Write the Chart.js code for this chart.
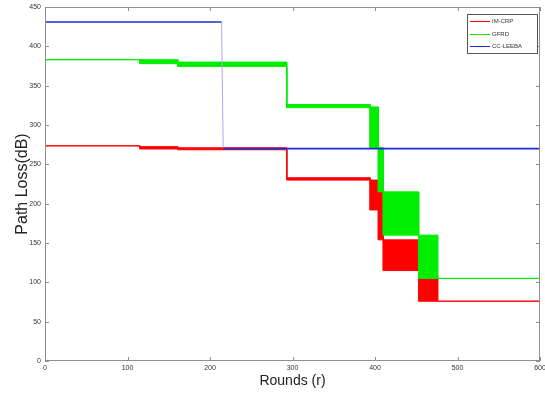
<!DOCTYPE html>
<html>
<head>
<meta charset="utf-8">
<script src="https://cdn.jsdelivr.net/npm/chart.js@4"></script>
<style>
  body { margin: 0; background: #fff; }
</style>
</head>
<body>
<canvas id="c" width="545" height="394"></canvas>
<script>
// Path loss per round.
// Each segment runs from start[i] to start[i+1] (last one to maxRound),
// and the value jumps between low[i] and high[i] inside it.
const maxRound = 600;

const imcrpStart = [0, 115, 161, 293, 394, 404, 410, 453, 476];
const imcrpHigh  = [273.5, 272.5, 271, 233, 230, 215, 154, 107, 76];
const imcrpLow   = [273.5, 269.5, 268.5, 230, 192, 154, 115, 76, 76];

const gfrdStart = [0, 115, 161, 293, 394, 404, 410, 453, 476];
const gfrdHigh  = [383, 383, 380, 326, 323, 271, 215, 160, 105];
const gfrdLow   = [383, 378, 374.5, 322, 271, 215, 160, 105, 105];

const leebaRounds = [0, 214, 216, 600];
const leebaLoss   = [431, 431, 270, 270];

const xTicks = [0, 100, 200, 300, 400, 500, 600];
const yTicks = [0, 50, 100, 150, 200, 250, 300, 350, 400, 450];

const seriesNames = ["IM-CRP", "GFRD", "CC-LEEBA"];
const seriesColors = ["#ff0000", "#00ee00", "#1e2ad2"];

// turn segments into corner points for a step outline
function stepPoints(starts, values) {
  const pts = [];
  starts.forEach((s, i) => {
    const end = i + 1 < starts.length ? starts[i + 1] : maxRound;
    pts.push({ x: s, y: values[i] });
    pts.push({ x: end, y: values[i] });
  });
  return pts;
}

const datasets = [
  // 0,1: IM-CRP band
  { label: seriesNames[0], data: stepPoints(imcrpStart, imcrpHigh), borderColor: seriesColors[0],
    borderWidth: 1, fill: false, order: 3 },
  { label: seriesNames[0] + " low", data: stepPoints(imcrpStart, imcrpLow), borderColor: seriesColors[0],
    backgroundColor: seriesColors[0], borderWidth: 1, fill: 0, order: 3 },
  // 2,3: GFRD band
  { label: seriesNames[1], data: stepPoints(gfrdStart, gfrdHigh), borderColor: seriesColors[1],
    borderWidth: 1, fill: false, order: 2 },
  { label: seriesNames[1] + " low", data: stepPoints(gfrdStart, gfrdLow), borderColor: seriesColors[1],
    backgroundColor: seriesColors[1], borderWidth: 1, fill: 2, order: 2 },
  // 4: CC-LEEBA
  { label: seriesNames[2], data: leebaRounds.map((r, i) => ({ x: r, y: leebaLoss[i] })),
    borderColor: seriesColors[2], borderWidth: 1.6, fill: false, order: 1,
    segment: {
      borderColor: ctx => Math.abs(ctx.p0.parsed.y - ctx.p1.parsed.y) > 50 ? "#aaaaf0" : undefined,
      borderWidth: ctx => Math.abs(ctx.p0.parsed.y - ctx.p1.parsed.y) > 50 ? 1 : undefined
    } }
];

// MATLAB style box with inward ticks, plus the little legend box
const framePlugin = {
  id: "frame",
  afterDraw(chart) {
    const { ctx, chartArea: a, scales: { x, y } } = chart;
    ctx.save();
    ctx.strokeStyle = "#8f8f8f";
    ctx.lineWidth = 1;
    ctx.strokeRect(a.left + 0.5, a.top + 0.5, a.right - a.left - 1, a.bottom - a.top - 1);
    ctx.beginPath();
    x.ticks.forEach(t => {
      const px = Math.round(x.getPixelForValue(t.value)) + 0.5;
      ctx.moveTo(px, a.bottom); ctx.lineTo(px, a.bottom - 4);
      ctx.moveTo(px, a.top); ctx.lineTo(px, a.top + 4);
    });
    y.ticks.forEach(t => {
      const py = Math.round(y.getPixelForValue(t.value)) + 0.5;
      ctx.moveTo(a.left, py); ctx.lineTo(a.left + 4, py);
      ctx.moveTo(a.right, py); ctx.lineTo(a.right - 4, py);
    });
    ctx.stroke();

    // legend
    const bx = 467, by = 14, bw = 70, bh = 39;
    ctx.fillStyle = "#fff";
    ctx.fillRect(bx, by, bw, bh);
    ctx.strokeStyle = "#555";
    ctx.strokeRect(bx + 0.5, by + 0.5, bw, bh);
    ctx.font = "6px 'Liberation Sans', Arial, sans-serif";
    ctx.textBaseline = "middle";
    seriesNames.forEach((name, i) => {
      const ly = Math.round(by + 7 + i * 12.5) + 0.5;
      ctx.strokeStyle = seriesColors[i];
      ctx.beginPath();
      ctx.moveTo(bx + 3, ly); ctx.lineTo(bx + 23, ly);
      ctx.stroke();
      ctx.fillStyle = "#333";
      ctx.fillText(name, bx + 25, ly);
    });
    ctx.restore();
  }
};

const tickFont = { family: "'Liberation Sans', Arial, sans-serif", size: 7 };

new Chart(document.getElementById("c"), {
  type: "line",
  data: { datasets },
  options: {
    responsive: false,
    animation: false,
    devicePixelRatio: 1,
    layout: { padding: { top: 7, right: 5, left: 0, bottom: 0 }, autoPadding: false },
    elements: { point: { radius: 0 }, line: { tension: 0 } },
    plugins: { legend: { display: false }, tooltip: { enabled: false } },
    scales: {
      x: {
        type: "linear", min: 0, max: maxRound,
        afterBuildTicks: s => { s.ticks = xTicks.map(v => ({ value: v })); },
        afterFit: s => { s.height = 33; s.paddingLeft = 0; s.paddingRight = 0; },
        ticks: { font: tickFont, color: "#333", padding: 3, maxRotation: 0 },
        grid: { display: false, drawTicks: false },
        border: { display: false },
        title: { display: true, text: "Rounds (r)", color: "#222",
                 font: { family: "'Liberation Sans', Arial, sans-serif", size: 14 },
                 padding: { top: 0, bottom: 4 } }
      },
      y: {
        min: 0, max: 450,
        afterBuildTicks: s => { s.ticks = yTicks.map(v => ({ value: v })); },
        afterFit: s => { s.width = 45; s.paddingTop = 0; s.paddingBottom = 0; },
        ticks: { font: tickFont, color: "#333", padding: 4 },
        grid: { display: false, drawTicks: false },
        border: { display: false },
        title: { display: true, text: "Path Loss(dB)", color: "#222",
                 font: { family: "'Liberation Sans', Arial, sans-serif", size: 16 },
                 padding: { top: 13, bottom: 0 } }
      }
    }
  },
  plugins: [framePlugin]
});
</script>
</body>
</html>
